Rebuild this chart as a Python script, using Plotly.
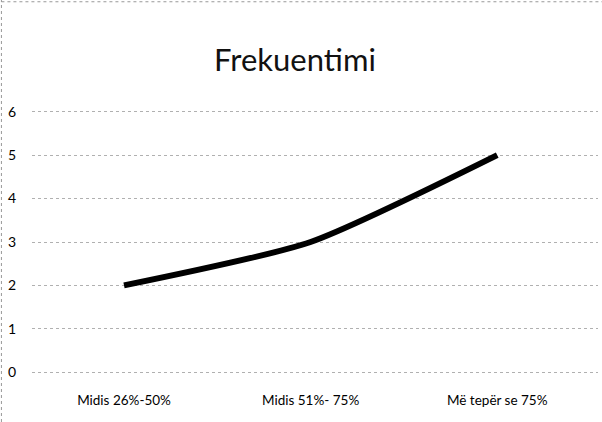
import plotly.graph_objects as go

categories = ["Midis 26%-50%", "Midis 51%- 75%", "Më tepër se 75%"]
values = [2, 3, 5]
y_ticks = [0, 1, 2, 3, 4, 5, 6]

fig = go.Figure()
fig.add_trace(go.Scatter(x=categories, y=values, mode="lines",
                         line=dict(color="black", width=6, shape="spline", smoothing=0.6),
                         showlegend=False))

fig.update_layout(
    width=602, height=422,
    paper_bgcolor="white", plot_bgcolor="white",
    margin=dict(l=32, r=4, t=110, b=48),
    font=dict(family="Lato, Open Sans, sans-serif", color="black", size=14),
    title=dict(text="Frekuentimi", x=0.49, xanchor="center", y=0.858, yanchor="middle",
               font=dict(size=31, color="#111")),
)
fig.update_xaxes(range=[-0.493, 2.54], showgrid=False, showline=False, ticks="",
                 tickfont=dict(size=13.5), ticklabelstandoff=16)
fig.update_yaxes(range=[-0.04, 6.04], tickvals=y_ticks, showgrid=True, gridcolor="#b0b0b0",
                 griddash="dot", gridwidth=1, zeroline=False, showline=False,
                 ticks="", ticklabelstandoff=15, tickfont=dict(size=14))

# scanned page border (dotted)
fig.add_shape(type="line", xref="paper", yref="paper", x0=-0.054, x1=-0.054, y0=-0.25, y1=1.43,
              line=dict(color="#999", width=1, dash="dot"))
fig.add_shape(type="line", xref="paper", yref="paper", x0=-0.054, x1=1.01, y0=1.41, y1=1.41,
              line=dict(color="#999", width=1, dash="dot"))

fig.write_html("out.html", config={"displayModeBar": False},
               post_script="document.body.style.margin='0';")
